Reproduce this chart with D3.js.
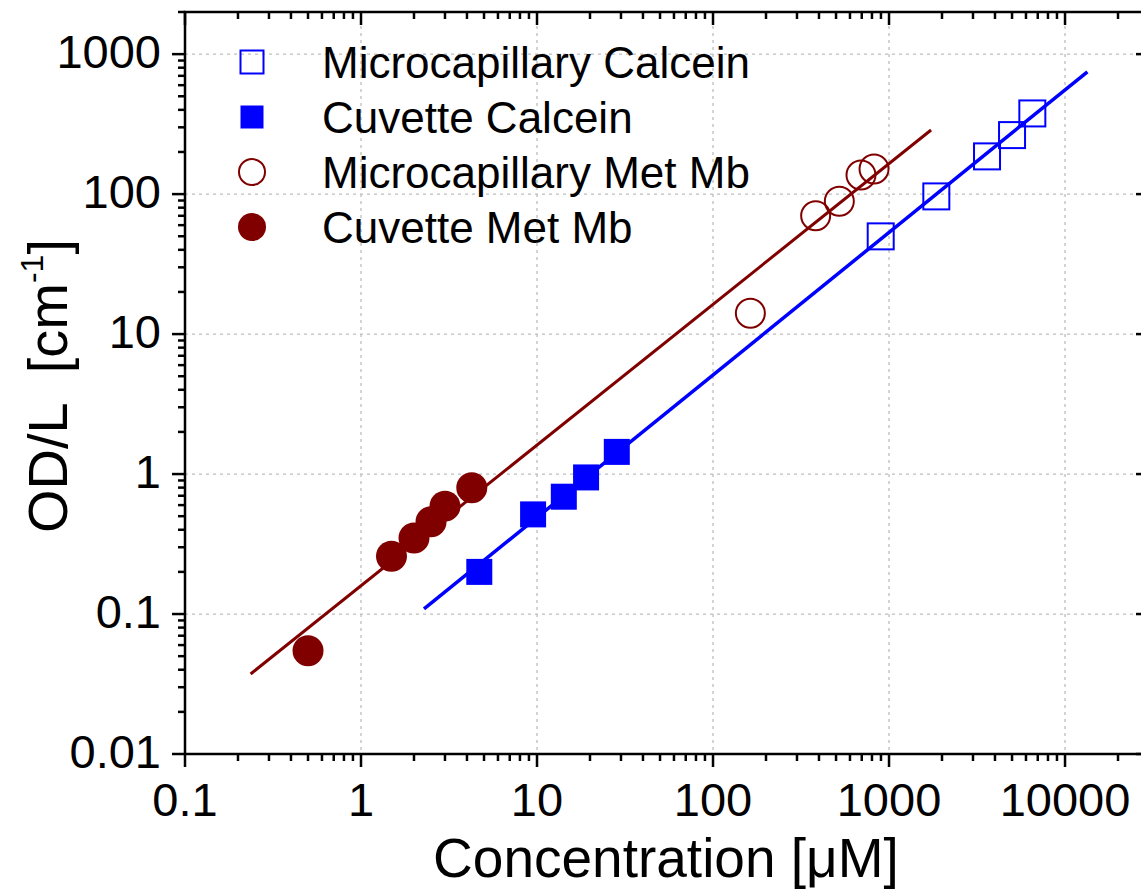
<!DOCTYPE html>
<html>
<head>
<meta charset="utf-8">
<script src="https://cdn.jsdelivr.net/npm/d3@7"></script>
<style>
body { margin: 0; background: #fff; }
text { font-family: "Liberation Sans", Arial, sans-serif; fill: #000; }
</style>
</head>
<body>
<div id="chart"></div>
<script>
// values
var capCalceinX = [897, 1857, 3604, 5000, 6520];
var capCalceinY = [49.9, 96.3, 186, 264, 377];
var cuvCalceinX = [4.7, 9.5, 14.2, 19.0, 28.4];
var cuvCalceinY = [0.200, 0.515, 0.689, 0.946, 1.44];
var capMbX = [163, 383, 522, 693, 822];
var capMbY = [14.1, 70, 89, 137, 151];
var cuvMbX = [0.5, 1.49, 2.0, 2.5, 3.0, 4.26];
var cuvMbY = [0.0547, 0.259, 0.349, 0.456, 0.590, 0.798];
var fitCalceinX = [2.28, 13400];
var fitCalceinY = [0.1087, 748];
var fitMbX = [0.236, 1733];
var fitMbY = [0.0373, 287];

var xTickLabels = [0.1, 1, 10, 100, 1000, 10000];
var yTickLabels = [0.01, 0.1, 1, 10, 100, 1000];
var legendNames = ["Microcapillary Calcein", "Cuvette Calcein", "Microcapillary Met Mb", "Cuvette Met Mb"];

var width = 1141, height = 892;
var plot = {left: 185, right: 1149, top: 12, bottom: 754};
var blue = "#0000ff", red = "#800000";

var svg = d3.select("#chart").append("svg")
    .attr("width", width)
    .attr("height", height);

var x = d3.scaleLog().domain([0.1, 30000]).range([plot.left, plot.right]);
var y = d3.scaleLog().domain([0.01, 2000]).range([plot.bottom, plot.top]);

var fmt = d => d3.format("~g")(d);
var xMinor = x.ticks().filter(d => xTickLabels.indexOf(d) < 0);
var yMinor = y.ticks().filter(d => yTickLabels.indexOf(d) < 0);

// grid
var grid = svg.append("g").attr("stroke", "#bdbdbd").attr("stroke-width", 1.3)
    .attr("stroke-dasharray", "3,4");
grid.selectAll("line.gx").data(xTickLabels).enter().append("line")
    .attr("x1", d => x(d)).attr("x2", d => x(d))
    .attr("y1", plot.top).attr("y2", plot.bottom);
grid.selectAll("line.gy").data(yTickLabels).enter().append("line")
    .attr("x1", plot.left).attr("x2", plot.right)
    .attr("y1", d => y(d)).attr("y2", d => y(d));

// fit lines
var line = d3.line().x(d => x(d[0])).y(d => y(d[1]));
svg.append("path").datum(d3.zip(fitMbX, fitMbY))
    .attr("d", line).attr("fill", "none").attr("stroke", red).attr("stroke-width", 3);
svg.append("path").datum(d3.zip(fitCalceinX, fitCalceinY))
    .attr("d", line).attr("fill", "none").attr("stroke", blue).attr("stroke-width", 3.5);

// markers
var sq = 26, rr = 15.5;
svg.selectAll("rect.cuvCal").data(d3.zip(cuvCalceinX, cuvCalceinY)).enter().append("rect")
    .attr("x", d => x(d[0]) - sq / 2).attr("y", d => y(d[1]) - sq / 2)
    .attr("width", sq).attr("height", sq).attr("fill", blue);
svg.selectAll("rect.capCal").data(d3.zip(capCalceinX, capCalceinY)).enter().append("rect")
    .attr("x", d => x(d[0]) - sq / 2).attr("y", d => y(d[1]) - sq / 2)
    .attr("width", sq).attr("height", sq).attr("fill", "none")
    .attr("stroke", blue).attr("stroke-width", 2);
svg.selectAll("circle.cuvMb").data(d3.zip(cuvMbX, cuvMbY)).enter().append("circle")
    .attr("cx", d => x(d[0])).attr("cy", d => y(d[1])).attr("r", rr).attr("fill", red);
svg.selectAll("circle.capMb").data(d3.zip(capMbX, capMbY)).enter().append("circle")
    .attr("cx", d => x(d[0])).attr("cy", d => y(d[1])).attr("r", rr - 1)
    .attr("fill", "none").attr("stroke", red).attr("stroke-width", 2);

// axes
var ax = svg.append("g").attr("stroke", "#000").attr("stroke-width", 2.5);
ax.append("rect").attr("x", plot.left).attr("y", plot.top)
    .attr("width", plot.right - plot.left).attr("height", plot.bottom - plot.top)
    .attr("fill", "none");

function xTicks(data, len) {
    ax.selectAll(null).data(data).enter().append("line")
        .attr("x1", d => x(d)).attr("x2", d => x(d))
        .attr("y1", plot.bottom).attr("y2", plot.bottom + len);
    ax.selectAll(null).data(data).enter().append("line")
        .attr("x1", d => x(d)).attr("x2", d => x(d))
        .attr("y1", plot.top).attr("y2", plot.top + len);
}
function yTicks(data, len) {
    ax.selectAll(null).data(data).enter().append("line")
        .attr("x1", plot.left - len).attr("x2", plot.left)
        .attr("y1", d => y(d)).attr("y2", d => y(d));
    ax.selectAll(null).data(data).enter().append("line")
        .attr("x1", plot.right - len).attr("x2", plot.right)
        .attr("y1", d => y(d)).attr("y2", d => y(d));
}
xTicks(xTickLabels, 13);
xTicks(xMinor, 7);
yTicks(yTickLabels, 13);
yTicks(yMinor, 7);

svg.selectAll("text.xl").data(xTickLabels).enter().append("text")
    .attr("x", d => x(d)).attr("y", plot.bottom + 62)
    .attr("text-anchor", "middle").style("font-size", "47px")
    .text(fmt);
svg.selectAll("text.yl").data(yTickLabels).enter().append("text")
    .attr("x", plot.left - 24).attr("y", d => y(d) + 14)
    .attr("text-anchor", "end").style("font-size", "47px")
    .text(fmt);

svg.append("text").attr("x", 666).attr("y", 877)
    .attr("text-anchor", "middle").style("font-size", "55px")
    .text("Concentration [\u03bcM]");

var yt = svg.append("text")
    .attr("transform", "translate(67,386) rotate(-90)")
    .attr("text-anchor", "middle").style("font-size", "56px")
    .style("white-space", "pre");
yt.append("tspan").text("OD/L  [cm");
yt.append("tspan").attr("dy", -24).style("font-size", "32px").text("-1");
yt.append("tspan").attr("dy", 24).text("]");

// legend
var legY = [62, 117, 172, 227];
var lx = 252, ls = 23;
var leg = svg.append("g");
leg.append("rect").attr("x", lx - ls / 2).attr("y", legY[0] - ls / 2).attr("width", ls).attr("height", ls)
    .attr("fill", "none").attr("stroke", blue).attr("stroke-width", 2);
leg.append("rect").attr("x", lx - ls / 2).attr("y", legY[1] - ls / 2).attr("width", ls).attr("height", ls)
    .attr("fill", blue);
leg.append("circle").attr("cx", lx).attr("cy", legY[2]).attr("r", 13)
    .attr("fill", "none").attr("stroke", red).attr("stroke-width", 2);
leg.append("circle").attr("cx", lx).attr("cy", legY[3]).attr("r", 14).attr("fill", red);
leg.selectAll("text").data(legendNames).enter().append("text")
    .attr("x", 322).attr("y", (d, i) => legY[i] + 16)
    .style("font-size", "44px")
    .text(d => d);
</script>
</body>
</html>
